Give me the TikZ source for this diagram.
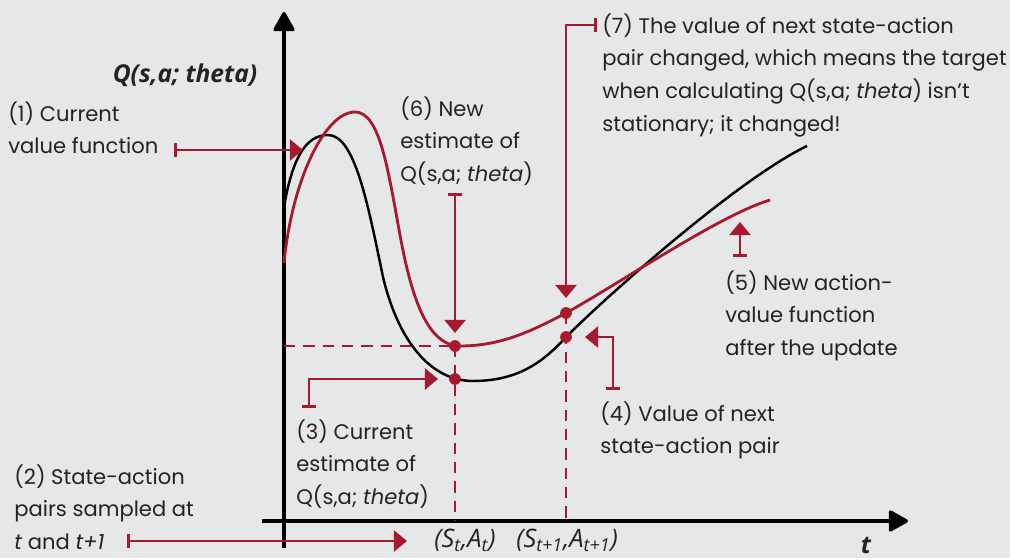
\documentclass[tikz,border=0pt]{standalone}
\usepackage{fontspec}
\setmainfont{Poppins}
\newfontfamily\lblfont{Open Sans}
\usetikzlibrary{arrows.meta}

\definecolor{bgGray}{RGB}{230,231,233}
\definecolor{qRed}{RGB}{166,25,46}
\definecolor{inkGray}{RGB}{35,35,35}

\tikzset{
  note/.style={anchor=north west, inner sep=0pt, align=left, text=inkGray,
    font=\fontsize{12}{18.7}\selectfont},
  callout/.style={qRed, line width=1.6pt,
    {Bar[width=8pt]}-{Triangle[length=7.5pt,width=12pt]}},
  guide/.style={qRed, line width=1.6pt, dash pattern=on 6.5pt off 4.5pt},
  dot/.style={circle, fill=qRed, inner sep=0pt, minimum size=6.5pt},
  axis/.style={line width=1.9pt, line join=round,
    -{Triangle[length=12pt,width=13pt,round]}},
  axislabel/.style={text=inkGray, font=\lblfont\bfseries\itshape\fontsize{14}{16}\selectfont},
  pairlabel/.style={text=inkGray, font=\lblfont\itshape\fontsize{14.5}{16}\selectfont},
}

\begin{document}
\begin{tikzpicture}[x=0.02cm, y=-0.02cm]
        \fill[bgGray] (0,0) rectangle (1010,558);

        % axes
        \coordinate (ybot) at (284,548);
        \coordinate (ytop) at (284,12);
        \coordinate (xleft) at (262,521);
        \coordinate (xright) at (908,521);
        \draw[axis] (ybot) -- (ytop);
        \draw[axis] (xleft) -- (xright);
        \node[axislabel] (qlabel) at (185,75) {Q(s,a; theta)};
        \node[axislabel] (tlabel) at (866,545) {t};

        % sampled pairs
        \node[dot] (curT) at (455,379) {};
        \node[dot] (newT) at (455,346) {};
        \node[dot] (curNext) at (566,337) {};
        \node[dot] (newNext) at (566,313) {};
        \draw[guide] (newT.center) -- (newT.center |- xleft);
        \draw[guide] (newNext.center) -- (newNext.center |- xleft);
        \draw[guide] (ybot |- newT) -- (newT.center);
        \node[pairlabel] (pairT) at (465,540) {(S\textsubscript{t},A\textsubscript{t})};
        \node[pairlabel] (pairNext) at (567,540) {(S\textsubscript{t+1},A\textsubscript{t+1})};

        % old and new value functions
        \draw[line width=1.4pt] (284,207) .. controls (292,160) and (305,135) .. (328,135)
          .. controls (355,135) and (368,205) .. (383,277)
          .. controls (398,340) and (430,381) .. (473,381)
          .. controls (520,381) and (545,360) .. (curNext.center)
          .. controls (610,293) and (740,178) .. (807,146);
        \draw[qRed, line width=1.6pt] (284,263) .. controls (292,180) and (325,112) .. (355,112)
          .. controls (380,112) and (388,170) .. (400,235)
          .. controls (410,289) and (425,346) .. (460,346)
          .. controls (500,346) and (530,332) .. (newNext.center)
          .. controls (620,283) and (720,215) .. (770,200);
        \node[dot] at (curT) {};
        \node[dot] at (newT) {};
        \node[dot] at (curNext) {};
        \node[dot] at (newNext) {};

        % notes
        \node[note] (n1) at (8,101) {(1) Current\\value function};
        \node[note] (n2) at (14,464) {(2) State-action\\pairs sampled at\\\textit{t} and \textit{t+1}};
        \node[note] (n3) at (296,419) {(3) Current\\estimate of\\Q(s,a; \textit{theta})};
        \node[note] (n4) at (600,401) {(4) Value of next\\state-action pair};
        \node[note] (n5) at (725,270) {(5) New action-\\value function\\after the update};
        \node[note] (n6) at (400,96) {(6) New\\estimate of\\Q(s,a; \textit{theta})};
        \node[note] (n7) at (602,13) {(7) The value of next state-action\\pair changed, which means the target\\when calculating Q(s,a; \textit{theta}) isn’t\\stationary; it changed!};

        % callouts
        \coordinate (c1) at (174,150);
        \coordinate (c2) at (127,541);
        \coordinate (c3) at (309,408);
        \coordinate (c4) at (613,390);
        \coordinate (c5) at (740,257);
        \coordinate (c6) at (455,193);
        \coordinate (c7) at (597,25);
        \coordinate (h1) at (303,150);
        \coordinate (h2) at (407,541);
        \coordinate (h3) at (438,379);
        \coordinate (h4) at (585,337);
        \coordinate (h5) at (740,222);
        \coordinate (h6) at (455,333);
        \coordinate (h7) at (566,298);
        \draw[callout] (c1) -- (h1);
        \draw[callout] (c2) -- (h2);
        \draw[callout] (c3) |- (h3);
        \draw[callout] (c4) |- (h4);
        \draw[callout] (c5) -- (h5);
        \draw[callout] (c6) -- (h6);
        \draw[callout] (c7) -| (h7);
\end{tikzpicture}
\end{document}
